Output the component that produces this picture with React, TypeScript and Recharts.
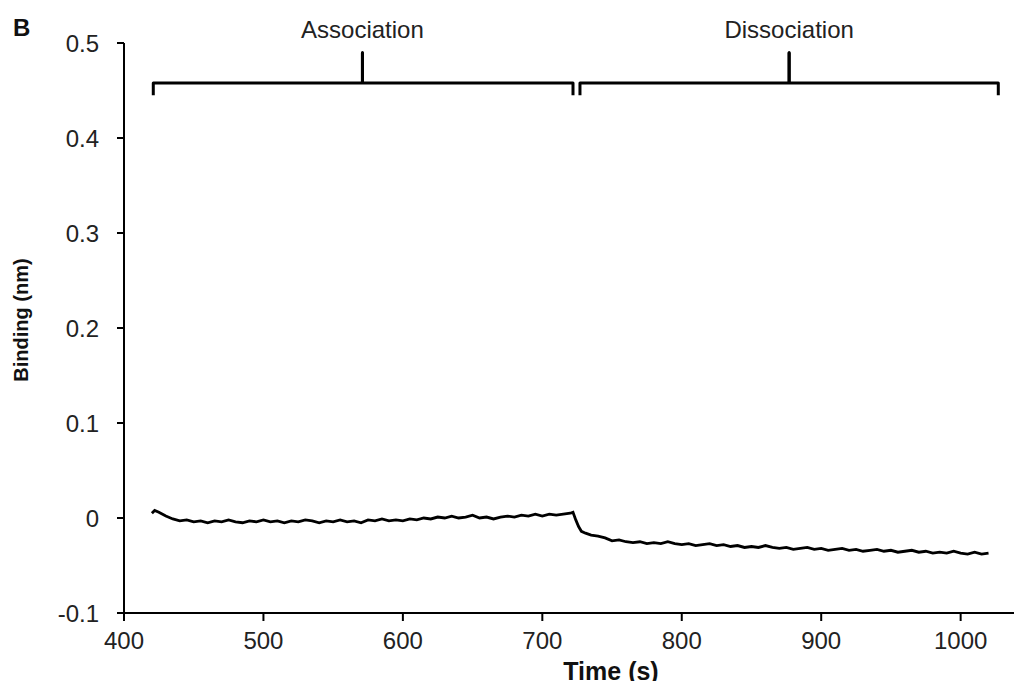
import { LineChart, Line, XAxis, YAxis, ReferenceLine, Label } from 'recharts'

// time (s), binding (nm)
const associationTrace: [number, number][] = [
	[420, 0.005], [422, 0.008], [425, 0.006], [430, 0.002], [435, -0.001],
	[440, -0.003], [445, -0.002], [450, -0.004], [455, -0.003], [460, -0.005],
	[465, -0.003], [470, -0.004], [475, -0.002], [480, -0.004], [485, -0.005],
	[490, -0.003], [495, -0.004], [500, -0.002], [505, -0.004], [510, -0.003],
	[515, -0.005], [520, -0.003], [525, -0.004], [530, -0.002], [535, -0.003],
	[540, -0.005], [545, -0.003], [550, -0.004], [555, -0.002], [560, -0.004],
	[565, -0.003], [570, -0.005], [575, -0.002], [580, -0.003], [585, -0.001],
	[590, -0.003], [595, -0.002], [600, -0.003], [605, -0.001], [610, -0.002],
	[615, 0.0], [620, -0.001], [625, 0.001], [630, 0.0], [635, 0.002],
	[640, 0.0], [645, 0.001], [650, 0.003], [655, 0.0], [660, 0.001],
	[665, -0.001], [670, 0.001], [675, 0.002], [680, 0.001], [685, 0.003],
	[690, 0.002], [695, 0.004], [700, 0.002], [705, 0.004], [710, 0.003],
	[715, 0.004], [720, 0.005], [722, 0.006],
]

const dissociationTrace: [number, number][] = [
	[724, -0.002], [726, -0.009], [728, -0.014], [731, -0.016], [735, -0.018],
	[740, -0.019], [745, -0.021], [750, -0.024], [755, -0.023], [760, -0.025],
	[765, -0.026], [770, -0.025], [775, -0.027], [780, -0.026], [785, -0.027],
	[790, -0.025], [795, -0.027], [800, -0.028], [805, -0.027], [810, -0.029],
	[815, -0.028], [820, -0.027], [825, -0.029], [830, -0.028], [835, -0.03],
	[840, -0.029], [845, -0.031], [850, -0.03], [855, -0.031], [860, -0.029],
	[865, -0.031], [870, -0.032], [875, -0.031], [880, -0.033], [885, -0.032],
	[890, -0.031], [895, -0.033], [900, -0.032], [905, -0.034], [910, -0.033],
	[915, -0.032], [920, -0.034], [925, -0.033], [930, -0.035], [935, -0.034],
	[940, -0.033], [945, -0.035], [950, -0.034], [955, -0.036], [960, -0.035],
	[965, -0.034], [970, -0.036], [975, -0.035], [980, -0.037], [985, -0.036],
	[990, -0.037], [995, -0.035], [1000, -0.037], [1005, -0.038], [1010, -0.036],
	[1015, -0.038], [1020, -0.037],
]

const xTicks = [400, 500, 600, 700, 800, 900, 1000]
const yTicks = [-0.1, 0, 0.1, 0.2, 0.3, 0.4, 0.5]

// phase brackets drawn above the trace
const phases = [
	{ name: 'Association', start: 421, mid: 571, end: 722 },
	{ name: 'Dissociation', start: 727, mid: 877, end: 1027 },
]
const bracketLevel = 0.458
const bracketFoot = 0.445
const bracketTip = 0.49

const trace = [...associationTrace, ...dissociationTrace].map(([t, v]) => ({ t, v }))

const bracketPoints = (p: { start: number; mid: number; end: number }) => [
	{ t: p.start, v: bracketFoot },
	{ t: p.start, v: bracketLevel },
	{ t: p.mid, v: bracketLevel },
	{ t: p.mid, v: bracketTip },
	{ t: p.mid, v: bracketLevel },
	{ t: p.end, v: bracketLevel },
	{ t: p.end, v: bracketFoot },
]

const FONT = "'Liberation Sans', Arial, sans-serif"

export default function App() {
	return (
		// negative bottom margin keeps the page from scrolling past the body margin
		<div
			style={{
				position: 'relative',
				width: 1014,
				height: 681,
				marginBottom: -8,
				fontFamily: FONT,
			}}
		>
			<div
				style={{
					position: 'absolute',
					left: 5,
					top: 6,
					fontSize: 24,
					fontWeight: 'bold',
					lineHeight: '28px',
					color: '#111',
				}}
			>
				B
			</div>
			<LineChart width={1014} height={681} margin={{ top: 35, right: 0, bottom: 0, left: 0 }}>
				<XAxis
					type='number'
					dataKey='t'
					domain={[400, 1044]}
					ticks={xTicks}
					allowDataOverflow
					height={76}
					tickSize={8}
					tickMargin={11}
					axisLine={{ stroke: '#000', strokeWidth: 2 }}
					tickLine={{ stroke: '#000', strokeWidth: 2 }}
					tick={{ fontSize: 24, fill: '#222' }}
				>
					<Label
						content={({ viewBox }: any) => (
							<text
								x={viewBox.x + 487}
								y={viewBox.y + 67}
								textAnchor='middle'
								fontSize={25}
								fontWeight='bold'
								fill='#111'
							>
								Time (s)
							</text>
						)}
					/>
				</XAxis>
				<YAxis
					type='number'
					dataKey='v'
					domain={[-0.1, 0.5]}
					ticks={yTicks}
					allowDataOverflow
					width={116}
					tickSize={7}
					tickMargin={18}
					tickFormatter={(v: number) => (v === 0 ? '0' : v.toFixed(1))}
					axisLine={{ stroke: '#000', strokeWidth: 2 }}
					tickLine={{ stroke: '#000', strokeWidth: 2 }}
					tick={{ fontSize: 24, fill: '#222' }}
				>
					<Label
						content={({ viewBox }: any) => {
							const cy = viewBox.y + viewBox.height / 2 - 8
							return (
								<text
									x={20}
									y={cy}
									transform={`rotate(-90, 20, ${cy})`}
									textAnchor='middle'
									fontSize={20}
									fontWeight='bold'
									fill='#111'
								>
									Binding (nm)
								</text>
							)
						}}
					/>
				</YAxis>
				<Line
					data={trace}
					dataKey='v'
					type='linear'
					stroke='#000'
					strokeWidth={2.8}
					dot={false}
					isAnimationActive={false}
				/>
				{phases.map((p) => (
					<Line
						key={p.name}
						data={bracketPoints(p)}
						dataKey='v'
						type='linear'
						stroke='#000'
						strokeWidth={3}
						strokeLinejoin='round'
						dot={false}
						isAnimationActive={false}
					/>
				))}
				{phases.map((p) => (
					<ReferenceLine
						key={p.name + '-label'}
						segment={[
							{ x: p.mid, y: bracketLevel },
							{ x: p.mid, y: bracketTip },
						]}
						stroke='#000'
						strokeWidth={3}
						label={{ value: p.name, position: 'top', offset: 15, fontSize: 24, fill: '#222' }}
					/>
				))}
			</LineChart>
		</div>
	)
}
